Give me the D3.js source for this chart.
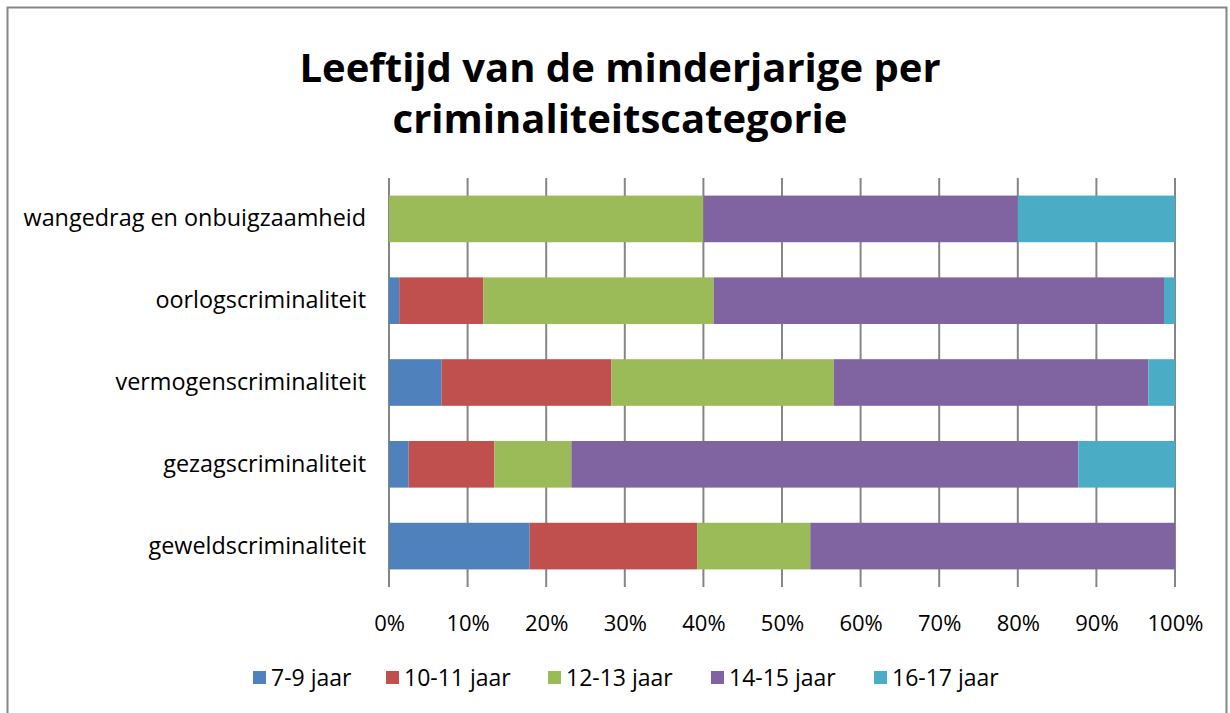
<!DOCTYPE html>
<html>
<head>
<meta charset="utf-8">
<script src="https://cdn.jsdelivr.net/npm/d3@7"></script>
<style>
  body { margin: 0; background: #fff; }
  text { font-family: "Open Sans", sans-serif; fill: #000; }
</style>
</head>
<body>
<script>
let categories = [
  "wangedrag en onbuigzaamheid",
  "oorlogscriminaliteit",
  "vermogenscriminaliteit",
  "gezagscriminaliteit",
  "geweldscriminaliteit"
];

let seriesNames = ["7-9 jaar", "10-11 jaar", "12-13 jaar", "14-15 jaar", "16-17 jaar"];
let colors = ["#4f81bd", "#c0504d", "#9bbb59", "#8064a2", "#4bacc6"];

// percentages per category, same order as categories
let age7to9   = [0,  1.3,  6.7,  2.5, 17.9];
let age10to11 = [0, 10.7, 21.6, 10.9, 21.3];
let age12to13 = [40, 29.3, 28.3,  9.8, 14.4];
let age14to15 = [40, 57.3, 40.0, 64.5, 46.4];
let age16to17 = [20,  1.4,  3.4, 12.3,  0];

let xTicks = [0, 10, 20, 30, 40, 50, 60, 70, 80, 90, 100];

let width = 1230, height = 713;
let margin = {top: 178, right: 55, bottom: 126, left: 389};
let plotW = width - margin.left - margin.right,
    plotH = height - margin.top - margin.bottom;

let table = categories.map((c, i) => ({
  cat: c,
  "7-9 jaar": age7to9[i],
  "10-11 jaar": age10to11[i],
  "12-13 jaar": age12to13[i],
  "14-15 jaar": age14to15[i],
  "16-17 jaar": age16to17[i]
}));

let stacked = d3.stack().keys(seriesNames)(table);

let svg = d3.select("body").append("svg")
    .attr("width", width)
    .attr("height", height);

svg.append("rect")
    .attr("x", 7.5).attr("y", 7.5)
    .attr("width", 1219).attr("height", 720)
    .attr("fill", "none")
    .attr("stroke", "#868686")
    .attr("stroke-width", 2);

// title
let title = svg.append("text")
    .attr("text-anchor", "middle")
    .attr("font-weight", "bold")
    .attr("font-size", 40);
title.append("tspan").attr("x", 620).attr("y", 82).text("Leeftijd van de minderjarige per");
title.append("tspan").attr("x", 620).attr("y", 133).text("criminaliteitscategorie");

let g = svg.append("g")
    .attr("transform", `translate(${margin.left}, ${margin.top})`);

let xScale = d3.scaleLinear().domain([0, 100]).range([0, plotW]);
let yScale = d3.scaleBand()
    .domain(categories)
    .range([0, plotH])
    .paddingInner(0.43)
    .paddingOuter(0.215);

// gridlines
g.append("g")
    .selectAll("line")
    .data(xTicks)
    .enter().append("line")
      .attr("x1", d => xScale(d)).attr("x2", d => xScale(d))
      .attr("y1", 0).attr("y2", plotH)
      .attr("stroke", "#868686")
      .attr("stroke-width", 2);

// bars
g.selectAll("g.series")
    .data(stacked)
    .enter().append("g")
      .attr("class", "series")
      .attr("fill", (d, i) => colors[i])
    .selectAll("rect")
    .data(d => d)
    .enter().append("rect")
      .attr("x", d => xScale(d[0]))
      .attr("y", d => yScale(d.data.cat))
      .attr("width", d => xScale(d[1]) - xScale(d[0]))
      .attr("height", yScale.bandwidth());

// x axis labels
let xAxis = d3.axisBottom(xScale)
    .tickValues(xTicks)
    .tickFormat(d => d + "%")
    .tickSize(0)
    .tickPadding(28);
let xg = g.append("g")
    .attr("transform", `translate(0, ${plotH})`)
    .call(xAxis);
xg.select(".domain").remove();
xg.selectAll("text").attr("font-size", 22).attr("font-family", "Open Sans").attr("fill", "#000");

// y axis labels
let yAxis = d3.axisLeft(yScale).tickSize(0).tickPadding(23);
let yg = g.append("g").call(yAxis);
yg.select(".domain").remove();
yg.selectAll("text").attr("font-size", 23.4).attr("font-family", "Open Sans").attr("fill", "#000");

// legend
let legendX = [253, 386, 548, 711, 874];
let legend = svg.append("g").selectAll("g")
    .data(seriesNames)
    .enter().append("g")
      .attr("transform", (d, i) => `translate(${legendX[i]}, 671)`);
legend.append("rect")
    .attr("width", 13).attr("height", 13)
    .attr("fill", (d, i) => colors[i]);
legend.append("text")
    .attr("x", 18).attr("y", 7)
    .attr("dy", "0.35em")
    .attr("font-size", 23)
    .text(d => d);
</script>
</body>
</html>
